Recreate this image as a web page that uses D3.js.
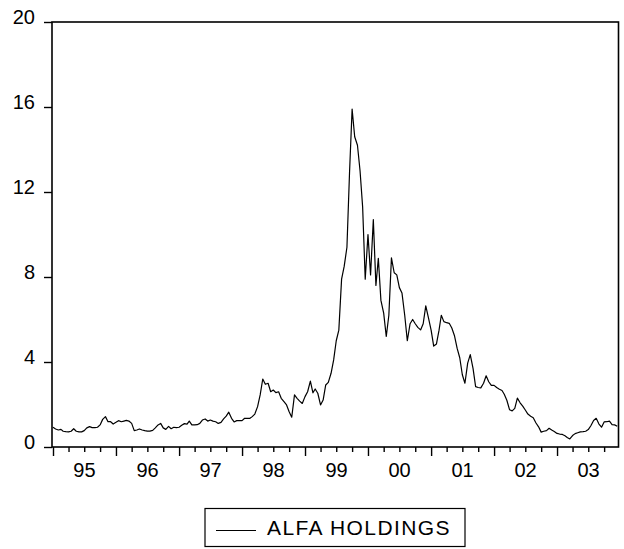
<!DOCTYPE html>
<html>
<head>
<meta charset="utf-8">
<script src="https://cdn.jsdelivr.net/npm/d3@7"></script>
<style>
  body { margin: 0; background: #fff; }
  svg { display: block; }
  text { font-family: Arial, "Liberation Sans", Helvetica, sans-serif; fill: #000; }
</style>
</head>
<body>
<svg id="chart" width="624" height="549"></svg>
<script>
// ALFA HOLDINGS share price, semi-monthly observations (1st and 16th of each month)
const seriesName = "ALFA HOLDINGS";
const years = [1995, 1996, 1997, 1998, 1999, 2000, 2001, 2002, 2003];
const yearLabels = ["95", "96", "97", "98", "99", "00", "01", "02", "03"];
const yTickValues = [0, 4, 8, 12, 16, 20];

const price1995 = [0.93, 0.85, 0.80, 0.83, 0.74, 0.72, 0.71, 0.74, 0.86, 0.74, 0.71, 0.71,
                   0.77, 0.90, 0.96, 0.91, 0.91, 0.93, 1.04, 1.30, 1.43, 1.19, 1.19, 1.08];
const price1996 = [1.16, 1.24, 1.19, 1.22, 1.25, 1.22, 1.11, 0.77, 0.80, 0.85, 0.80, 0.77,
                   0.75, 0.75, 0.78, 0.90, 1.04, 1.11, 0.90, 0.83, 0.97, 0.86, 0.93, 0.91];
const price1997 = [0.93, 1.02, 1.10, 1.08, 1.22, 1.04, 1.04, 1.05, 1.11, 1.27, 1.32, 1.22,
                   1.27, 1.22, 1.19, 1.11, 1.16, 1.32, 1.45, 1.64, 1.35, 1.18, 1.24, 1.24];
const price1998 = [1.24, 1.35, 1.35, 1.35, 1.43, 1.55, 1.90, 2.45, 3.20, 2.95, 3.00, 2.60,
                   2.68, 2.56, 2.60, 2.29, 2.13, 1.98, 1.66, 1.40, 2.45, 2.29, 2.16, 2.05];
const price1999 = [2.37, 2.60, 3.10, 2.55, 2.73, 2.53, 1.98, 2.21, 2.92, 3.04, 3.47, 4.10,
                   5.00, 5.50, 7.90, 8.50, 9.40, 12.9, 15.9, 14.6, 14.2, 13.0, 11.3, 7.90];
const price2000 = [10.0, 8.10, 10.7, 7.60, 8.88, 6.90, 6.30, 5.20, 6.20, 8.90, 8.20, 8.10,
                   7.50, 7.25, 6.20, 5.00, 5.80, 6.00, 5.80, 5.63, 5.51, 5.80, 6.64, 6.10];
const price2001 = [5.50, 4.75, 4.85, 5.50, 6.20, 5.90, 5.85, 5.82, 5.60, 5.25, 4.64, 4.20,
                   3.40, 3.00, 3.95, 4.35, 3.70, 2.84, 2.80, 2.78, 3.00, 3.35, 3.07, 2.90];
const price2002 = [2.90, 2.80, 2.72, 2.66, 2.48, 2.20, 1.75, 1.70, 1.82, 2.30, 2.08, 1.92,
                   1.74, 1.55, 1.45, 1.38, 1.13, 0.95, 0.70, 0.74, 0.77, 0.88, 0.80, 0.73];
const price2003 = [0.64, 0.61, 0.59, 0.53, 0.45, 0.38, 0.54, 0.63, 0.67, 0.71, 0.72, 0.74,
                   0.82, 1.00, 1.25, 1.35, 1.08, 0.93, 1.18, 1.19, 1.22, 1.05, 1.04, 0.98];

const pricesByYear = [price1995, price1996, price1997, price1998, price1999,
                      price2000, price2001, price2002, price2003];

// observation dates: 1st and 16th of every month
const data = [];
years.forEach((yr, i) => {
  pricesByYear[i].forEach((v, j) => {
    const month = Math.floor(j / 2);
    const day = j % 2 === 0 ? 1 : 16;
    data.push({ date: new Date(yr, month, day), value: v });
  });
});

const svg = d3.select("#chart");
const frame = { left: 52, right: 618.5, top: 22, bottom: 447 };

const x = d3.scaleTime()
  .domain([new Date(1995, 0, 1), new Date(2004, 0, 1)])
  .range([53, 620]);
const y = d3.scaleLinear()
  .domain([0, 20])
  .range([frame.bottom, frame.top]);

// clip to the plot frame
svg.append("defs").append("clipPath").attr("id", "plotClip")
  .append("rect")
  .attr("x", frame.left).attr("y", frame.top - 2)
  .attr("width", frame.right - frame.left).attr("height", frame.bottom - frame.top + 2);

// series line
const line = d3.line()
  .x(d => x(d.date))
  .y(d => y(d.value));

svg.append("path")
  .datum(data)
  .attr("clip-path", "url(#plotClip)")
  .attr("fill", "none")
  .attr("stroke", "#000")
  .attr("stroke-width", 1.2)
  .attr("stroke-linejoin", "round")
  .attr("d", line);

// frame
svg.append("rect")
  .attr("x", frame.left).attr("y", frame.top)
  .attr("width", frame.right - frame.left)
  .attr("height", frame.bottom - frame.top)
  .attr("fill", "none")
  .attr("stroke", "#000")
  .attr("stroke-width", 1.6);

// left axis
const yAxis = d3.axisLeft(y)
  .tickValues(yTickValues)
  .tickSize(8)
  .tickPadding(9)
  .tickFormat(d3.format("d"));
const gy = svg.append("g")
  .attr("transform", `translate(${frame.left},0)`)
  .call(yAxis);
gy.select(".domain").remove();
gy.selectAll(".tick line").attr("stroke", "#000").attr("stroke-width", 1.4);
gy.selectAll(".tick text")
  .attr("dy", "0.05em")
  .style("font-size", "20px")
  .style("font-family", "Arial, 'Liberation Sans', sans-serif");

// bottom axis: quarterly minor ticks, yearly major ticks
const quarterTicks = [];
years.forEach(yr => [3, 6, 9].forEach(m => quarterTicks.push(new Date(yr, m, 1))));
const yearTicks = years.map(yr => new Date(yr, 0, 1));

const gMinor = svg.append("g")
  .attr("transform", `translate(0,${frame.bottom})`)
  .call(d3.axisBottom(x).tickValues(quarterTicks).tickSize(5).tickFormat(""));
gMinor.select(".domain").remove();
gMinor.selectAll(".tick line").attr("stroke", "#000").attr("stroke-width", 1.4);

const gMajor = svg.append("g")
  .attr("transform", `translate(0,${frame.bottom})`)
  .call(d3.axisBottom(x).tickValues(yearTicks).tickSize(9).tickFormat(""));
gMajor.select(".domain").remove();
gMajor.selectAll(".tick line").attr("stroke", "#000").attr("stroke-width", 1.4);

// year labels centred in each year
svg.append("g").selectAll("text")
  .data(years)
  .join("text")
  .attr("x", (yr) => (x(new Date(yr, 0, 1)) + x(new Date(yr + 1, 0, 1))) / 2)
  .attr("y", 477)
  .attr("text-anchor", "middle")
  .style("font-size", "20px")
  .text((yr, i) => yearLabels[i]);

// legend
const legend = svg.append("g");
legend.append("rect")
  .attr("x", 205).attr("y", 508.5)
  .attr("width", 260).attr("height", 38)
  .attr("fill", "#fff")
  .attr("stroke", "#000")
  .attr("stroke-width", 1.2);
legend.append("line")
  .attr("x1", 216).attr("x2", 256)
  .attr("y1", 530.5).attr("y2", 530.5)
  .attr("stroke", "#000")
  .attr("stroke-width", 1.2);
legend.append("text")
  .attr("x", 267).attr("y", 535)
  .style("font-size", "21px")
  .style("letter-spacing", "1.4px")
  .text(seriesName);
</script>
</body>
</html>
